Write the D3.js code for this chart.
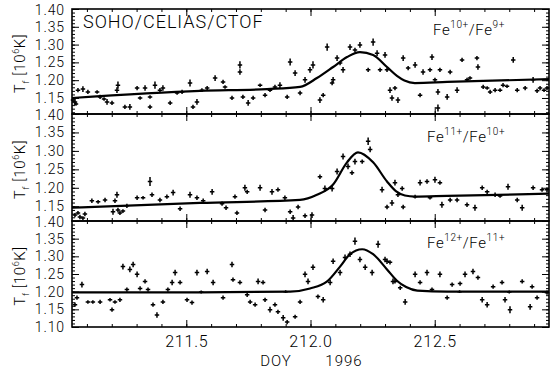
<!DOCTYPE html>
<html>
<head>
<meta charset="utf-8">
<script src="https://cdn.jsdelivr.net/npm/d3@7"></script>
<style>
  body { margin: 0; background: #fff; }
  svg { display: block; font-family: Roboto, 'DejaVu Sans', sans-serif; font-weight: 300; }
</style>
</head>
<body>
<svg id="chart" width="551" height="371"></svg>
<script>
// DOY 1996 axis
const doyDomain = [211.04, 212.96];
const doyTicks = [211.5, 212.0, 212.5];
const doyTickLabels = ['211.5', '212.0', '212.5'];

// temperature axes, 10^6 K
const tempTicks = [1.15, 1.20, 1.25, 1.30, 1.35, 1.40];
const tempTicksLow = [1.10, 1.15, 1.20, 1.25, 1.30, 1.35, 1.40];
const panelDomains = [[1.105, 1.40], [1.11, 1.40], [1.10, 1.40]];

const ionRatios = [['10+', '9+'], ['11+', '10+'], ['12+', '11+']];

// [DOY, T, dT]
const fe10Points = [
  [211.044,1.144,.006],[211.052,1.139,.008],[211.056,1.133,.005],[211.064,1.172,.006],[211.084,1.175,.008],
  [211.104,1.167,.006],[211.141,1.167,.005],[211.153,1.153,.006],[211.169,1.147,.005],[211.181,1.139,.008],
  [211.201,1.136,.006],[211.221,1.172,.008],[211.225,1.186,.010],[211.253,1.125,.006],[211.273,1.125,.008],
  [211.302,1.178,.006],[211.314,1.150,.005],[211.334,1.178,.008],[211.354,1.125,.006],[211.354,1.153,.005],
  [211.374,1.186,.010],[211.394,1.172,.006],[211.406,1.178,.008],[211.435,1.136,.006],[211.463,1.164,.005],
  [211.483,1.167,.006],[211.515,1.192,.010],[211.527,1.125,.006],[211.543,1.139,.008],[211.563,1.172,.005],
  [211.584,1.178,.006],[211.616,1.206,.008],[211.648,1.195,.006],[211.656,1.181,.005],[211.684,1.150,.006],
  [211.716,1.223,.008],[211.716,1.243,.010],[211.728,1.153,.006],[211.749,1.136,.008],[211.769,1.150,.006],
  [211.797,1.186,.005],[211.817,1.158,.006],[211.837,1.172,.005],[211.857,1.181,.006],[211.877,1.186,.008],
  [211.906,1.153,.006],[211.918,1.251,.010],[211.938,1.220,.008],[211.958,1.164,.006],[211.978,1.201,.008],
  [211.998,1.229,.008],[212.010,1.243,.010],[212.038,1.144,.008],[212.051,1.158,.006],[212.067,1.293,.010],
  [212.087,1.192,.006],[212.091,1.201,.008],[212.107,1.262,.008],[212.119,1.248,.006],[212.131,1.229,.008],
  [212.159,1.293,.008],[212.179,1.285,.006],[212.199,1.299,.008],[212.232,1.229,.006],[212.252,1.307,.010],
  [212.268,1.276,.008],[212.280,1.229,.006],[212.300,1.271,.008],[212.308,1.229,.006],[212.320,1.172,.008],
  [212.328,1.150,.008],[212.340,1.178,.006],[212.352,1.144,.008],[212.373,1.262,.008],[212.393,1.234,.006],
  [212.421,1.243,.008],[212.441,1.158,.006],[212.453,1.223,.008],[212.481,1.229,.006],[212.489,1.265,.008],
  [212.501,1.201,.006],[212.513,1.167,.008],[212.513,1.122,.010],[212.521,1.229,.006],[212.550,1.153,.008],
  [212.562,1.223,.006],[212.590,1.172,.008],[212.610,1.257,.006],[212.630,1.201,.006],[212.642,1.206,.005],
  [212.670,1.262,.006],[212.674,1.237,.008],[212.695,1.181,.006],[212.711,1.178,.005],[212.723,1.167,.006],
  [212.743,1.172,.006],[212.763,1.172,.005],[212.775,1.186,.006],[212.791,1.183,.005],[212.816,1.257,.008],
  [212.832,1.172,.006],[212.864,1.178,.006],[212.896,1.201,.008],[212.912,1.170,.006],[212.924,1.178,.006],
  [212.940,1.172,.005],[212.952,1.178,.006]
];
const fe10Fit = [
  [211.04,1.150],[211.555,1.170],[211.825,1.175],[211.958,1.181],[212.026,1.206],[212.091,1.237],
  [212.147,1.265],[212.199,1.279],[212.252,1.271],[212.308,1.237],[212.348,1.212],[212.378,1.199],
  [212.420,1.192],[212.55,1.195],[212.96,1.203]
];

const fe11Points = [
  [211.052,1.126,.006],[211.064,1.132,.005],[211.072,1.121,.006],[211.084,1.118,.005],[211.092,1.129,.006],
  [211.120,1.165,.006],[211.145,1.162,.005],[211.173,1.167,.006],[211.205,1.135,.008],[211.213,1.165,.006],
  [211.221,1.181,.008],[211.225,1.140,.006],[211.233,1.132,.006],[211.245,1.137,.005],[211.261,1.151,.006],
  [211.302,1.173,.006],[211.326,1.173,.005],[211.354,1.217,.012],[211.362,1.181,.006],[211.394,1.167,.006],
  [211.422,1.176,.006],[211.447,1.187,.008],[211.475,1.143,.006],[211.515,1.181,.008],[211.543,1.173,.006],
  [211.568,1.165,.006],[211.604,1.189,.008],[211.644,1.157,.006],[211.660,1.146,.006],[211.696,1.176,.006],
  [211.704,1.132,.006],[211.736,1.200,.008],[211.745,1.189,.006],[211.797,1.200,.008],[211.817,1.140,.006],
  [211.845,1.189,.008],[211.869,1.195,.006],[211.897,1.173,.006],[211.918,1.135,.006],[211.930,1.118,.008],
  [211.950,1.148,.006],[211.978,1.124,.006],[212.006,1.126,.008],[212.038,1.230,.006],[212.058,1.198,.008],
  [212.087,1.198,.008],[212.107,1.244,.008],[212.131,1.285,.008],[212.151,1.258,.008],[212.167,1.241,.006],
  [212.179,1.271,.008],[212.208,1.271,.006],[212.232,1.326,.010],[212.240,1.304,.008],[212.288,1.195,.008],
  [212.308,1.148,.006],[212.328,1.159,.008],[212.340,1.214,.008],[212.352,1.181,.006],[212.369,1.198,.006],
  [212.373,1.148,.006],[212.421,1.176,.005],[212.441,1.214,.008],[212.469,1.217,.006],[212.481,1.173,.005],
  [212.501,1.222,.008],[212.521,1.214,.006],[212.529,1.154,.008],[212.562,1.167,.006],[212.590,1.167,.006],
  [212.630,1.154,.006],[212.662,1.146,.008],[212.691,1.200,.006],[212.711,1.189,.006],[212.743,1.181,.006],
  [212.763,1.178,.005],[212.795,1.203,.008],[212.832,1.167,.006],[212.852,1.146,.008],[212.896,1.200,.006],
  [212.932,1.195,.006],[212.952,1.195,.006]
];
const fe11Fit = [
  [211.04,1.146],[211.555,1.159],[211.958,1.167],[212.026,1.181],[212.091,1.209],[212.147,1.269],
  [212.191,1.296],[212.252,1.269],[212.308,1.217],[212.345,1.190],[212.380,1.179],[212.42,1.176],
  [212.55,1.178],[212.96,1.184]
];

const fe12Points = [
  [211.052,1.163,.006],[211.060,1.183,.006],[211.080,1.220,.008],[211.104,1.171,.005],[211.124,1.171,.005],
  [211.153,1.171,.006],[211.193,1.177,.005],[211.201,1.149,.006],[211.213,1.171,.005],[211.233,1.177,.006],
  [211.245,1.271,.008],[211.261,1.206,.006],[211.273,1.263,.008],[211.286,1.277,.008],[211.302,1.249,.008],
  [211.314,1.209,.006],[211.334,1.229,.006],[211.346,1.206,.006],[211.366,1.163,.006],[211.382,1.134,.008],
  [211.406,1.171,.006],[211.426,1.206,.006],[211.443,1.226,.008],[211.455,1.254,.008],[211.475,1.226,.006],
  [211.503,1.177,.006],[211.523,1.169,.006],[211.543,1.254,.008],[211.560,1.199,.004],[211.584,1.257,.008],
  [211.608,1.226,.008],[211.648,1.183,.006],[211.684,1.277,.008],[211.688,1.234,.006],[211.716,1.226,.006],
  [211.745,1.191,.006],[211.757,1.171,.006],[211.777,1.163,.006],[211.789,1.229,.008],[211.809,1.226,.006],
  [211.817,1.177,.006],[211.837,1.149,.008],[211.857,1.163,.006],[211.869,1.143,.006],[211.890,1.126,.008],
  [211.900,1.200,.004],[211.906,1.114,.006],[211.938,1.129,.006],[211.958,1.171,.006],[211.978,1.249,.008],
  [211.990,1.229,.008],[212.010,1.269,.008],[212.030,1.186,.006],[212.051,1.177,.008],[212.079,1.226,.008],
  [212.091,1.286,.008],[212.119,1.254,.008],[212.139,1.297,.008],[212.159,1.306,.008],[212.179,1.343,.010],
  [212.199,1.291,.008],[212.220,1.269,.008],[212.248,1.254,.008],[212.272,1.334,.010],[212.300,1.291,.008],
  [212.308,1.286,.008],[212.320,1.283,.006],[212.332,1.229,.008],[212.340,1.229,.006],[212.361,1.211,.006],
  [212.381,1.171,.008],[212.421,1.249,.008],[212.441,1.226,.006],[212.469,1.254,.008],[212.489,1.206,.006],
  [212.521,1.249,.008],[212.550,1.183,.006],[212.570,1.220,.006],[212.600,1.200,.004],[212.602,1.223,.006],
  [212.622,1.249,.008],[212.654,1.257,.008],[212.674,1.240,.006],[212.691,1.177,.008],[212.711,1.163,.008],
  [212.735,1.214,.006],[212.771,1.226,.006],[212.783,1.177,.008],[212.800,1.199,.004],[212.803,1.149,.010],
  [212.852,1.229,.006],[212.884,1.157,.008],[212.892,1.214,.006],[212.912,1.183,.006],[212.952,1.197,.006]
];
const fe12Fit = [
  [211.04,1.198],[211.555,1.198],[211.918,1.200],[211.998,1.209],[212.067,1.229],[212.119,1.271],
  [212.159,1.306],[212.208,1.320],[212.252,1.306],[212.308,1.263],[212.348,1.231],[212.385,1.213],
  [212.43,1.203],[212.55,1.200],[212.96,1.200]
];

const left = 72, right = 549;
const panels = [
  { top: 9,   bottom: 114, domain: panelDomains[0], ticks: tempTicks,    points: fe10Points, fit: fe10Fit, ion: ionRatios[0], lx: 433, ly: 35 },
  { top: 114, bottom: 221, domain: panelDomains[1], ticks: tempTicks,    points: fe11Points, fit: fe11Fit, ion: ionRatios[1], lx: 427, ly: 142 },
  { top: 221, bottom: 327, domain: panelDomains[2], ticks: tempTicksLow, points: fe12Points, fit: fe12Fit, ion: ionRatios[2], lx: 427, ly: 248 }
];

const svg = d3.select('#chart');
const x = d3.scaleLinear().domain(doyDomain).range([left, right]);

const xMinor = d3.range(2111, 2130).map(v => v / 10).filter(v => v > doyDomain[0] && v < doyDomain[1]);

function styleAxis(g) {
  g.select('.domain').remove();
  g.selectAll('line').attr('stroke', '#000').attr('stroke-width', 1);
  g.selectAll('text').attr('fill', '#000');
  g.attr('font-family', null).attr('font-size', null);
}

panels.forEach((p, i) => {
  const y = d3.scaleLinear().domain(p.domain).range([p.bottom, p.top]);
  const g = svg.append('g');
  const yMinor = d3.range(110, 141).map(v => v / 100).filter(v => v >= p.domain[0] - 1e-9 && v <= p.domain[1] + 1e-9);

  // data points with error crosses
  g.append('g').selectAll('path').data(p.points).join('path')
    .attr('d', d => `M${x(d[0] - 0.009)},${y(d[1])}H${x(d[0] + 0.009)}M${x(d[0])},${y(d[1] - d[2])}V${y(d[1] + d[2])}`)
    .attr('fill', 'none')
    .attr('stroke', '#000')
    .attr('stroke-width', 1.5);

  // fit
  const line = d3.line().x(d => x(d[0])).y(d => y(d[1])).curve(d3.curveMonotoneX);
  g.append('path').datum(p.fit)
    .attr('d', line)
    .attr('fill', 'none')
    .attr('stroke', '#000')
    .attr('stroke-width', 2.2);

  // ticks, all pointing inward
  g.append('g').attr('transform', `translate(${left},0)`)
    .call(d3.axisLeft(y).tickValues(yMinor).tickSize(-3).tickFormat(''))
    .call(styleAxis);
  const yl = g.append('g').attr('transform', `translate(${left},0)`)
    .call(d3.axisLeft(y).tickValues(p.ticks).tickSize(-7).tickPadding(7).tickFormat(d3.format('.2f')))
    .call(styleAxis);
  yl.selectAll('text').attr('font-size', 14).attr('letter-spacing', 0.9)
    .attr('transform', d => d === 1.40 ? `translate(0,${i === 0 ? 1 : 1.5})` : null);
  g.append('g').attr('transform', `translate(${right},0)`)
    .call(d3.axisRight(y).tickValues(yMinor).tickSize(-3).tickFormat(''))
    .call(styleAxis);
  g.append('g').attr('transform', `translate(${right},0)`)
    .call(d3.axisRight(y).tickValues(p.ticks).tickSize(-7).tickFormat(''))
    .call(styleAxis);
  g.append('g').attr('transform', `translate(0,${p.top})`)
    .call(d3.axisTop(x).tickValues(xMinor).tickSize(-3).tickFormat(''))
    .call(styleAxis);
  g.append('g').attr('transform', `translate(0,${p.top})`)
    .call(d3.axisTop(x).tickValues(doyTicks).tickSize(-7).tickFormat(''))
    .call(styleAxis);
  g.append('g').attr('transform', `translate(0,${p.bottom})`)
    .call(d3.axisBottom(x).tickValues(xMinor).tickSize(-3).tickFormat(''))
    .call(styleAxis);
  const xb = g.append('g').attr('transform', `translate(0,${p.bottom})`)
    .call(d3.axisBottom(x).tickValues(doyTicks).tickSize(-7).tickPadding(9)
      .tickFormat((d, k) => i === panels.length - 1 ? doyTickLabels[k] : ''))
    .call(styleAxis);
  xb.selectAll('text').attr('font-size', 16).attr('letter-spacing', 0.8);

  // frame
  g.append('rect')
    .attr('x', left).attr('y', p.top)
    .attr('width', right - left).attr('height', p.bottom - p.top)
    .attr('fill', 'none').attr('stroke', '#000').attr('stroke-width', 1.6);

  // ion ratio label
  const lab = g.append('text').attr('x', p.lx).attr('y', p.ly).attr('font-size', 15).attr('letter-spacing', 0.6);
  lab.append('tspan').text('Fe');
  lab.append('tspan').attr('dy', -7).attr('font-size', 10).text(p.ion[0]);
  lab.append('tspan').attr('dy', 7).text('/Fe');
  lab.append('tspan').attr('dy', -7).attr('font-size', 10).text(p.ion[1]);

  // y title
  const yt = g.append('text')
    .attr('transform', `translate(25,${(p.top + p.bottom) / 2 + 2}) rotate(-90)`)
    .attr('text-anchor', 'middle').attr('font-size', 15).attr('letter-spacing', 0.6);
  yt.append('tspan').text('T');
  yt.append('tspan').attr('dy', 4).attr('font-size', 9).text('f');
  yt.append('tspan').attr('dy', -4).text(' [10');
  yt.append('tspan').attr('dy', -6).attr('font-size', 9).text('6');
  yt.append('tspan').attr('dy', 6).text('K]');
});

svg.append('text').attr('x', 83).attr('y', 28)
  .attr('font-size', 18).attr('letter-spacing', 1)
  .text('SOHO/CELIAS/CTOF');

svg.append('text').attr('x', 276).attr('y', 366).attr('text-anchor', 'middle')
  .attr('font-size', 15).attr('letter-spacing', 1).text('DOY');
svg.append('text').attr('x', 344).attr('y', 366).attr('text-anchor', 'middle')
  .attr('font-size', 15).attr('letter-spacing', 1).text('1996');
</script>
</body>
</html>
